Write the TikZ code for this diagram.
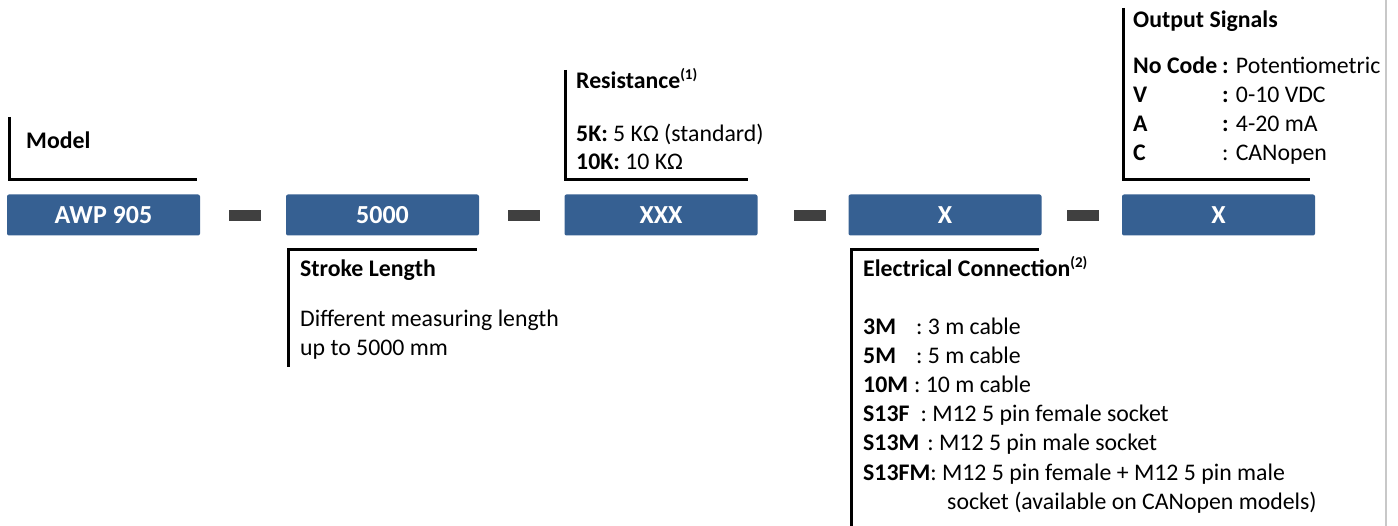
\documentclass[tikz,border=0pt]{standalone}
\usepackage{fontspec}
\setmainfont{Carlito}
\definecolor{boxblue}{RGB}{54,96,146}
\definecolor{dashgray}{RGB}{64,64,64}
\definecolor{edgegray}{RGB}{200,200,200}
\newcommand{\bodyfont}{\fontsize{23.8}{29}\selectfont}
\newcommand{\boxfont}{\fontsize{26}{30}\selectfont}
\newcommand{\supnum}[1]{\textsuperscript{\fontsize{15}{15}\selectfont\bfseries #1}}
\tikzset{
  codebox/.style={fill=boxblue, rounded corners=2pt, minimum width=193pt, minimum height=41pt,
    inner sep=0pt, text=white, font=\boxfont\bfseries},
  dashbar/.style={fill=dashgray, minimum width=32pt, minimum height=11pt, inner sep=0pt},
  bracket/.style={draw=black, line width=3pt},
  txt/.style={anchor=base west, inner sep=0pt, font=\bodyfont},
  head/.style={txt, font=\bodyfont\bfseries}
}
\begin{document}
\begin{tikzpicture}[x=1pt,y=-1pt]
\useasboundingbox (0,0) rectangle (1398,526);
% right edge line
\draw[edgegray, line width=1.5pt] (1386,0) -- (1386,526);
% code boxes
\node[codebox] (b1) at (103.5,215) {AWP 905};
\node[codebox] (b2) at (382.5,215) {5000};
\node[codebox] (b3) at (661,215) {XXX};
\node[codebox] (b4) at (945,215) {X};
\node[codebox] (b5) at (1218.5,215) {X};
% separators
\node[dashbar] (d1) at (245,215.5) {};
\node[dashbar] (d2) at (524,215.5) {};
\node[dashbar] (d3) at (810,215.5) {};
\node[dashbar] (d4) at (1083,215.5) {};
% brackets
\draw[bracket] (9.5,117) |- (197,179.5);
\draw[bracket] (288.5,367) |- (477,249.5);
\draw[bracket] (565.5,70) |- (748,180);
\draw[bracket] (1123,8) |- (1310,179.5);
\draw[bracket] (851.5,526) |- (1039,249.5);
% Model
\node[head] (tmodel) at (26,149) {Model};
% Stroke length
\node[head] (tstroke) at (300,277) {Stroke Length};
\node[txt] (tstroke1) at (300,327) {Different measuring length};
\node[txt] (tstroke2) at (300,356) {up to 5000 mm};
% Resistance
\node[head] (tres) at (576,89) {Resistance\supnum{(1)}};
\node[txt] (tres1) at (576,142) {\textbf{5K:} 5 KΩ (standard)};
\node[txt] (tres2) at (576,170) {\textbf{10K:} 10 KΩ};
% Output signals
\node[head] (tout) at (1133,28) {Output Signals};
\node[txt] (tout1) at (1133,74) {\makebox[89pt][l]{\textbf{No Code}}\textbf{:} Potentiometric};
\node[txt] (tout2) at (1133,103) {\makebox[89pt][l]{\textbf{V}}\textbf{:} 0-10 VDC};
\node[txt] (tout3) at (1133,132) {\makebox[89pt][l]{\textbf{A}}\textbf{:} 4-20 mA};
\node[txt] (tout4) at (1133,161) {\makebox[89pt][l]{\textbf{C}}: CANopen};
% Electrical connection
\node[head] (telec) at (863,277) {Electrical Connection\supnum{(2)}};
\node[txt] (te1) at (863,335) {\textbf{3M}\hspace{20pt}: 3 m cable};
\node[txt] (te2) at (863,364) {\textbf{5M}\hspace{20pt}: 5 m cable};
\node[txt] (te3) at (863,393) {\textbf{10M}\hspace{6pt}: 10 m cable};
\node[txt] (te4) at (863,422) {\textbf{S13F}\hspace{11pt}: M12 5 pin female socket};
\node[txt] (te5) at (863,451) {\textbf{S13M}\hspace{8pt}: M12 5 pin male socket};
\node[txt] (te6) at (863,480) {\textbf{S13FM}: M12 5 pin female + M12 5 pin male};
\node[txt] (te7) at (947,509) {socket (available on CANopen models)};
\end{tikzpicture}
\end{document}
